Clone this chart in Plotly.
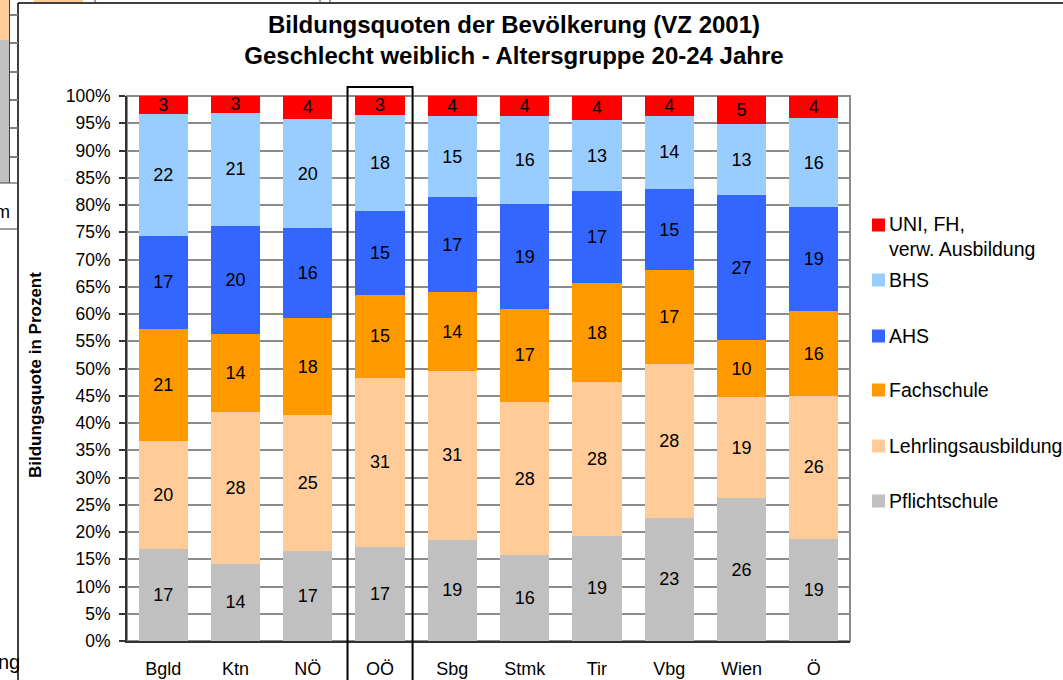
import plotly.graph_objects as go

# ---------------- data ----------------
categories = ["Bgld", "Ktn", "NÖ", "OÖ", "Sbg", "Stmk", "Tir", "Vbg", "Wien", "Ö"]
highlight = "OÖ"

series_names = ["Pflichtschule", "Lehrlingsausbildung", "Fachschule", "AHS", "BHS",
                "UNI, FH,<br>verw. Ausbildung"]
series_colors = ["#C0C0C0", "#FFCC99", "#FF9900", "#3366FF", "#99CCFF", "#FF0000"]

pflichtschule = [16.8, 14.2, 16.6, 17.3, 18.6, 15.7, 19.3, 22.6, 26.2, 18.8]
lehrling      = [19.9, 27.8, 24.8, 31.0, 30.9, 28.1, 28.2, 28.2, 18.6, 26.1]
fachschule    = [20.6, 14.4, 17.9, 15.2, 14.4, 17.2, 18.1, 17.3, 10.4, 15.7]
ahs           = [17.1, 19.9, 16.4, 15.4, 17.4, 19.1, 16.9, 14.9, 26.7, 19.0]
bhs           = [22.3, 20.7, 20.1, 17.6, 14.9, 16.2, 13.1, 13.5, 13.0, 16.3]
uni           = [3.3, 3.1, 4.2, 3.4, 3.7, 3.7, 4.4, 3.6, 5.2, 4.1]
series_values = [pflichtschule, lehrling, fachschule, ahs, bhs, uni]

title_lines = ["Bildungsquoten der Bevölkerung (VZ 2001)",
               "Geschlecht weiblich - Altersgruppe 20-24 Jahre"]
y_title = "Bildungsquote in Prozent"

FONT = "Arial, Liberation Sans, sans-serif"
W, H = 1063, 680
ML, MR, MT, MB = 127, 213, 96, 39
PW, PH = W - ML - MR, H - MT - MB


def px(x):
    return (x - ML) / PW


def py(y):
    return (H - MB - y) / PH


fig = go.Figure()
for name, color, vals in zip(series_names, series_colors, series_values):
    fig.add_trace(go.Bar(
        x=categories, y=vals, name=name.replace("<br>", " "),
        marker=dict(color=color, line=dict(width=0)),
        text=[str(round(v)) for v in vals],
        textposition="inside", insidetextanchor="middle", textangle=0,
        constraintext="none",
        textfont=dict(family=FONT, size=18, color="black"),
        showlegend=False, hoverinfo="skip",
    ))

shapes = []
annotations = []

# plot area border (gray) on top/right
shapes.append(dict(type="rect", xref="paper", yref="paper", x0=0, x1=1, y0=0, y1=1,
                   line=dict(color="#8C8C8C", width=2), layer="below"))

# highlight box around OÖ
idx = categories.index(highlight)
n = len(categories)
shapes.append(dict(type="rect", xref="paper", yref="paper",
                   x0=(idx + 0.5 - 0.45) / n, x1=(idx + 0.5 + 0.45) / n,
                   y0=py(700), y1=py(87),
                   line=dict(color="black", width=2), layer="above"))

# manual legend (top entry first)
leg_y = [236.5, 280, 336, 390, 446, 501]
for k, (name, color) in enumerate(zip(series_names[::-1], series_colors[::-1])):
    cy = leg_y[k] if k > 0 else 225
    shapes.append(dict(type="rect", xref="paper", yref="paper",
                       x0=px(872), x1=px(885), y0=py(cy + 6.5), y1=py(cy - 6.5),
                       fillcolor=color, line=dict(width=0)))
    annotations.append(dict(xref="paper", yref="paper", x=px(887), y=py(leg_y[k]),
                            xanchor="left", yanchor="middle", align="left",
                            text=name, showarrow=False,
                            font=dict(family=FONT, size=19.5, color="black")))

# y axis title
annotations.append(dict(xref="paper", yref="paper", x=px(35), y=py(375),
                        xanchor="center", yanchor="middle", textangle=-90,
                        text="<b>" + y_title + "</b>", showarrow=False,
                        font=dict(family=FONT, size=17, color="black")))

# chart frame and background artefacts of the underlying sheet
frame = dict(color="black", width=1.5)
shapes.append(dict(type="line", xref="paper", yref="paper", x0=px(18), x1=px(18),
                   y0=py(3), y1=py(690), line=frame))
shapes.append(dict(type="line", xref="paper", yref="paper", x0=px(18), x1=px(1070),
                   y0=py(3), y1=py(3), line=frame))
shapes.append(dict(type="rect", xref="paper", yref="paper", x0=px(-5), x1=px(9),
                   y0=py(40), y1=py(-5), fillcolor="#FFCC99", line=dict(width=0)))
shapes.append(dict(type="rect", xref="paper", yref="paper", x0=px(-5), x1=px(9),
                   y0=py(183), y1=py(40), fillcolor="#C0C0C0", line=dict(width=0)))
for ty in [15, 43, 72, 100, 128, 157]:
    shapes.append(dict(type="line", xref="paper", yref="paper", x0=px(9), x1=px(18),
                       y0=py(ty), y1=py(ty), line=dict(color="#808080", width=2)))
shapes.append(dict(type="line", xref="paper", yref="paper", x0=px(9.5), x1=px(9.5),
                   y0=py(183), y1=py(-5), line=dict(color="#404040", width=1)))
shapes.append(dict(type="line", xref="paper", yref="paper", x0=px(-5), x1=px(18),
                   y0=py(183), y1=py(183), line=dict(color="#404040", width=1)))
shapes.append(dict(type="line", xref="paper", yref="paper", x0=px(-5), x1=px(18),
                   y0=py(229), y1=py(229), line=dict(color="#404040", width=1)))
shapes.append(dict(type="rect", xref="paper", yref="paper", x0=px(34), x1=px(83),
                   y0=py(2), y1=py(-5), fillcolor="#FFCC99", line=dict(width=0)))
for vx in [95, 320, 330]:
    shapes.append(dict(type="line", xref="paper", yref="paper", x0=px(vx), x1=px(vx),
                       y0=py(3), y1=py(-5), line=dict(color="#404040", width=1)))
annotations.append(dict(xref="paper", yref="paper", x=px(-7), y=py(212), xanchor="left",
                        yanchor="middle", text="m", showarrow=False,
                        font=dict(family=FONT, size=18, color="black")))
annotations.append(dict(xref="paper", yref="paper", x=px(-4), y=py(662), xanchor="left",
                        yanchor="middle", text="ng", showarrow=False,
                        font=dict(family=FONT, size=20, color="black")))

fig.update_layout(
    width=W, height=H,
    margin=dict(l=ML, r=MR, t=MT, b=MB, autoexpand=False),
    paper_bgcolor="white", plot_bgcolor="white",
    barmode="stack", barnorm="percent", bargap=0.32,
    showlegend=False,
    uniformtext=dict(minsize=18, mode="show"),
    title=dict(text="<b>" + title_lines[0] + "<br>" + title_lines[1] + "</b>",
               x=px(514), xref="paper", xanchor="center",
               y=1 - 32.5 / H, yref="container", yanchor="middle",
               font=dict(family=FONT, size=24, color="black")),
    font=dict(family=FONT, color="black"),
    xaxis=dict(type="category", categoryorder="array", categoryarray=categories,
               range=[-0.5, n - 0.5],
               showline=True, linecolor="#333333", linewidth=2,
               ticks="", ticklabelstandoff=10,
               tickfont=dict(family=FONT, size=18, color="black"),
               showgrid=False, fixedrange=True),
    yaxis=dict(range=[0, 100], dtick=5, ticksuffix="%",
               showline=True, linecolor="#333333", linewidth=2,
               ticks="outside", ticklen=6, tickwidth=2, tickcolor="#333333",
               ticklabelstandoff=5,
               tickfont=dict(family=FONT, size=17.5, color="black"),
               showgrid=True, gridcolor="#8C8C8C", gridwidth=2, zeroline=False,
               fixedrange=True),
    shapes=shapes, annotations=annotations,
)

fig.write_html("out.html", config={"displayModeBar": False},
               post_script="document.body.style.margin='0';")
